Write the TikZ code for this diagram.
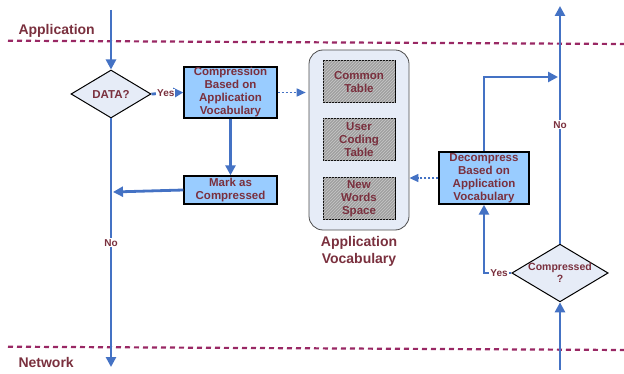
\documentclass[tikz,border=0pt]{standalone}
\usepackage{fontspec}
\setmainfont{Liberation Sans}
\usetikzlibrary{arrows.meta,shapes.geometric,patterns}
\definecolor{lineblue}{RGB}{68,114,196}
\definecolor{txtred}{RGB}{122,48,62}
\definecolor{divider}{RGB}{153,40,100}
\definecolor{boxblue}{RGB}{153,204,255}
\definecolor{paleblue}{RGB}{230,236,247}
\definecolor{hatchgray}{RGB}{160,160,160}
\definecolor{stripe}{RGB}{200,200,200}
\tikzset{
  flow/.style={draw=lineblue, line width=2.8pt, -{Triangle[width=10pt,length=10pt]}},
  plainflow/.style={draw=lineblue, line width=2.8pt},
  dotflow/.style={draw=lineblue, line width=1.6pt, dash pattern=on 2pt off 2pt, -{Triangle[width=8pt,length=9pt]}},
  divline/.style={draw=divider, line width=2.2pt, dash pattern=on 5pt off 4pt},
  txt/.style={text=txtred, font=\bfseries\fontsize{11.5}{13}\selectfont, align=center},
  procbox/.style={txt, draw=black, line width=1.4pt, fill=boxblue, minimum width=93pt, inner sep=0pt},
  decision/.style={txt, diamond, draw=black, line width=1pt, fill=paleblue, minimum width=80pt, minimum height=48pt, inner sep=0pt, aspect=1.67},
  tablebox/.style={txt, draw=black, line width=1pt, fill=hatchgray,
    postaction={pattern=north east lines, pattern color=stripe},
    minimum width=72pt, minimum height=42pt, inner sep=0pt},
  edgelbl/.style={txt, fill=white, inner sep=1pt, font=\bfseries\fontsize{10}{11}\selectfont},
  layerlbl/.style={text=txtred, font=\bfseries\fontsize{14}{16}\selectfont, anchor=west},
}
\begin{document}
\begin{tikzpicture}[x=1pt, y=-1pt]
\useasboundingbox (0,0) rectangle (624,374);

% layer dividers
\coordinate (appL) at (8,40.7);
\coordinate (appR) at (624,44);
\coordinate (netL) at (8,346.7);
\coordinate (netR) at (624,350);
\draw[divline] (appL) -- (appR);
\draw[divline] (netL) -- (netR);
\node[layerlbl] (applbl) at (15,31) {Application};
\node[layerlbl] (netlbl) at (15,362) {Network};

% sending side
\node[decision] (data) at (111,94) {DATA?};
\node[procbox, minimum height=51pt] (compress) at (230.5,92.5) {Compression\\Based on\\Application\\Vocabulary};
\node[procbox, minimum height=28pt] (mark) at (230.5,190) {Mark as\\Compressed};

\coordinate (lefttop) at (111,10);
\coordinate (leftbot) at (111,367);
\coordinate (leftjoin) at (113,192);
\draw[flow] (lefttop) -- (data.north);
\draw[flow] (data.south) -- node[edgelbl, pos=0.5] {No} (leftbot);
\draw[flow] (data.east) -- node[edgelbl, pos=0.45] {Yes} (compress.west);
\draw[flow] (compress.south) -- (mark.north);
\draw[flow] (mark.west) -- (leftjoin);

% shared vocabulary
\node[draw=black!70, line width=0.8pt, fill=paleblue, rounded corners=14pt,
      minimum width=100pt, minimum height=180pt] (vocab) at (359,140) {};
\node[tablebox] (common) at (359,82) {Common\\Table};
\node[tablebox] (usertab) at (359,139.5) {User\\Coding\\Table};
\node[tablebox] (newwords) at (359,199) {New\\Words\\Space};
\node[text=txtred, font=\bfseries\fontsize{14}{17}\selectfont, align=center, anchor=north] (vocablbl) at ([yshift=-2pt]vocab.south) {Application\\Vocabulary};

\draw[dotflow] (compress.east) -- ++(28,0) coordinate (dotend);

% receiving side
\node[decision, font=\bfseries\fontsize{10.5}{12}\selectfont] (comp) at (560,273) {Compressed\\?};
\node[procbox, minimum width=90pt, minimum height=52pt] (decomp) at (484,178) {Decompress\\Based on\\Application\\Vocabulary};

\coordinate (rightbot) at (560,370);
\coordinate (righttop) at (560,6);
\coordinate (rightjoin) at (558,77);
\draw[flow] (rightbot) -- (comp.south);
\draw[flow] (comp.north) -- node[edgelbl, pos=0.5] {No} (righttop);
\draw[flow] (comp.west) -- node[edgelbl, pos=0.45] {Yes} (484,273) -- (decomp.south);
\draw[flow] (decomp.north) |- (rightjoin);
\draw[dotflow] (decomp.west) -- (vocab.east |- decomp.west);
\end{tikzpicture}
\end{document}
